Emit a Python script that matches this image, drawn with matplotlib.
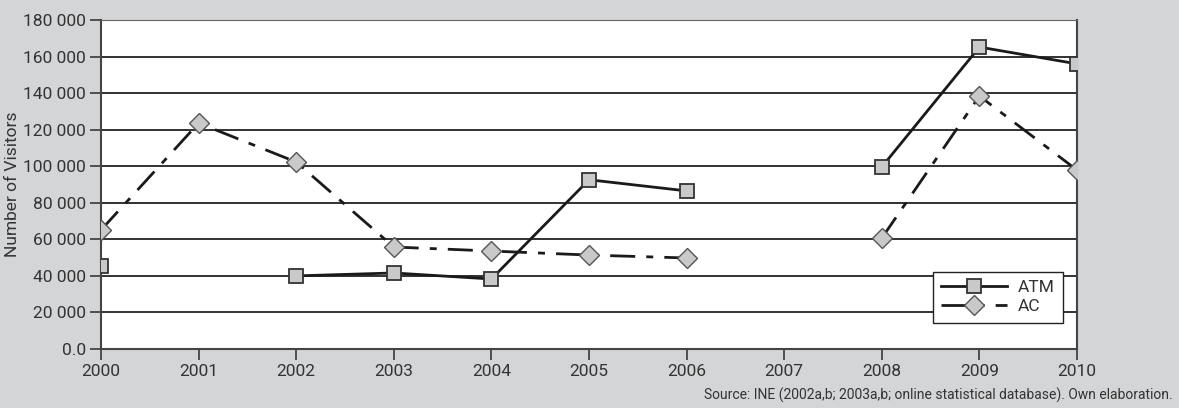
import numpy as np
import matplotlib.pyplot as plt
from matplotlib.ticker import FuncFormatter

plt.rcParams['font.family'] = ['Roboto', 'DejaVu Sans']

years = [2000, 2001, 2002, 2003, 2004, 2005, 2006, 2007, 2008, 2009, 2010]
atm = [45400, np.nan, 40000, 41600, 38300, 92600, 86500, np.nan, 99600, 165200, 156000]
ac = [65100, 123600, 102300, 55800, 53600, 51400, 49800, np.nan, 60700, 138400, 97900]

bg = '#d4d5d7'
txt = '#333333'

fig = plt.figure(figsize=(11.79, 4.08), dpi=100, facecolor=bg)
ax = fig.add_axes([101/1179, 1 - 349/408, 976/1179, 329/408])
ax.set_facecolor('white')

ax.plot(years, atm, color='#1a1a1a', lw=2, marker='s', ms=9.5,
        mfc='#c9c9c9', mec='#333333', mew=1.3, label='ATM', zorder=3)
ax.plot(years, ac, color='#1a1a1a', lw=2, linestyle=(0, (9, 4, 2.5, 4)), marker='D', ms=10.5,
        mfc='#c9c9c9', mec='#555555', mew=1.0, label='AC', zorder=3)

ax.set_xlim(2000, 2010)
ax.set_ylim(0, 180000)
ax.set_xticks(years)
ax.set_yticks(range(0, 180001, 20000))
ax.yaxis.set_major_formatter(FuncFormatter(
    lambda v, p: '0.0' if v == 0 else f'{int(v):,}'.replace(',', ' ')))
ax.grid(axis='y', color='#222222', lw=1.3)
ax.set_axisbelow(True)

for s in ['left', 'right', 'bottom']:
    ax.spines[s].set_color('#444444')
    ax.spines[s].set_linewidth(1.5)
ax.spines['top'].set_color('#666666')

ax.tick_params(axis='both', direction='out', length=8, width=1.3, color='#444444',
               labelsize=12.5, labelcolor=txt, pad=3)
ax.set_ylabel('Number of Visitors', fontsize=12.5, color=txt, labelpad=2)

ax.legend(loc='lower right', bbox_to_anchor=(0.986, 0.08), fontsize=12.5,
          frameon=True, fancybox=False, edgecolor='#222222', framealpha=1,
          handlelength=3.8, borderpad=0.5, labelspacing=0.2, handletextpad=0.6,
          labelcolor=txt, borderaxespad=0)

fig.text(0.995, 0.012, 'Source: INE (2002a,b; 2003a,b; online statistical database). Own elaboration.',
         ha='right', va='bottom', fontsize=10, color=txt)

fig.savefig('out.png', dpi=100, facecolor=bg)
